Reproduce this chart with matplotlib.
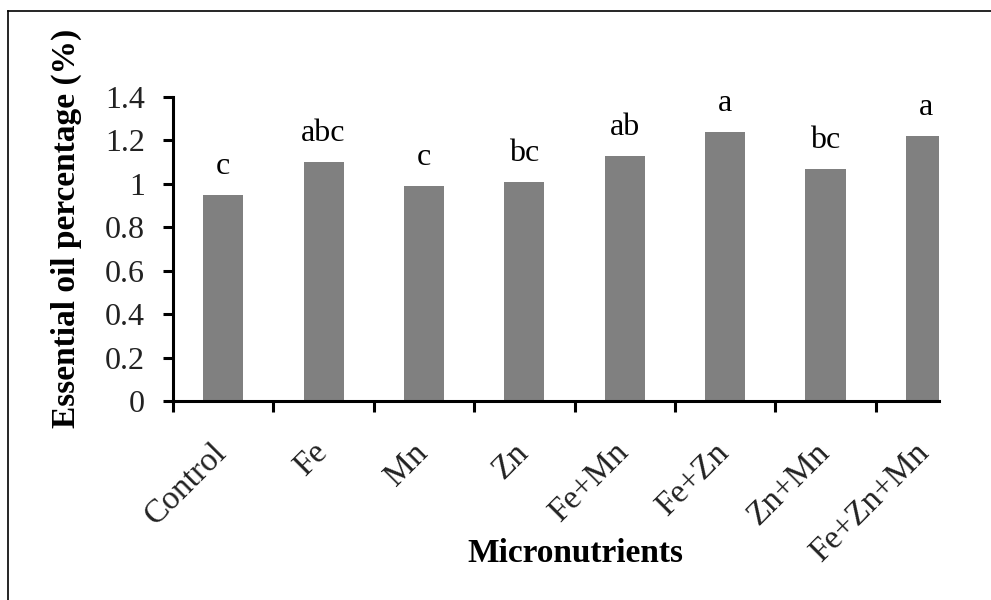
import numpy as np
import matplotlib.pyplot as plt
from matplotlib.lines import Line2D
from matplotlib.transforms import ScaledTranslation

# data
treatments = ['Control', 'Fe', 'Mn', 'Zn', 'Fe+Mn', 'Fe+Zn', 'Zn+Mn', 'Fe+Zn+Mn']
oil_pct = [0.95, 1.10, 0.99, 1.01, 1.13, 1.24, 1.07, 1.22]
groups = ['c', 'abc', 'c', 'bc', 'ab', 'a', 'bc', 'a']
y_ticks = [0, 0.2, 0.4, 0.6, 0.8, 1, 1.2, 1.4]
y_tick_labels = ['0', '0.2', '0.4', '0.6', '0.8', '1', '1.2', '1.4']

plt.rcParams['font.family'] = ['Liberation Serif', 'DejaVu Serif']

W, H = 991, 600
fig = plt.figure(figsize=(W / 100, H / 100), dpi=100)
ax = fig.add_axes([173 / W, 1 - 401 / H, (939 - 173) / W, (401 - 97) / H])

x = np.arange(len(treatments))
ax.bar(x, oil_pct, width=0.4, color='#808080', zorder=2)

for xi, v, g in zip(x, oil_pct, groups):
    ax.annotate(g, (xi, v), xytext=(0, 15), textcoords='offset points',
                ha='center', va='baseline', fontsize=23)

ax.set_yticks(y_ticks)
ax.set_yticklabels(y_tick_labels, fontsize=23, color='#222222')

# category labels between boundary ticks
ax.set_xticks(x)
ax.set_xticklabels(treatments, rotation=45, ha='right', va='top',
                   rotation_mode='default', fontsize=24, color='#222222')
ax.tick_params(axis='x', which='major', length=0, pad=26)
ax.set_xticks(np.arange(len(treatments) + 1) - 0.5, minor=True)
ax.tick_params(axis='x', which='minor', length=8, width=2.2, direction='out')
ax.tick_params(axis='y', length=7, width=2.2, direction='out', pad=13)
shift = ScaledTranslation(7 / 72, 0, fig.dpi_scale_trans)
for lbl in ax.get_xticklabels():
    lbl.set_transform(lbl.get_transform() + shift)

# right end of the chart is cut off in the original
ax.set_xlim(-0.5, 7.13)
ax.set_ylim(0, 1.4)

for side in ['top', 'right']:
    ax.spines[side].set_visible(False)
for side in ['left', 'bottom']:
    ax.spines[side].set_linewidth(2.2)

fig.text(66 / W, 1 - 228 / H, 'Essential oil percentage (%)', rotation=90,
         ha='center', va='center', fontsize=24, fontweight='bold')
fig.text(575 / W, 1 - 562 / H, 'Micronutrients', ha='center', va='baseline',
         fontsize=24, fontweight='bold')

# outer frame (cropped on right and bottom)
fig.add_artist(Line2D([8 / W, 8 / W], [0, 1 - 11 / H], color='black', lw=1.2,
                      transform=fig.transFigure))
fig.add_artist(Line2D([8 / W, 1], [1 - 11 / H, 1 - 11 / H], color='black', lw=1.2,
                      transform=fig.transFigure))

fig.savefig('out.png', dpi=100)
